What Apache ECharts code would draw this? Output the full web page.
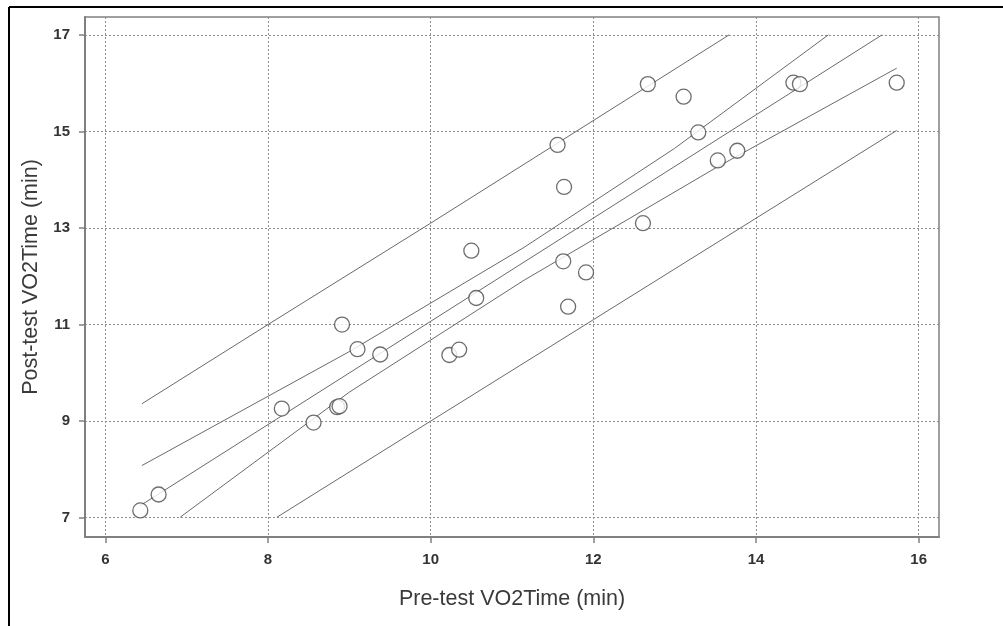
<!DOCTYPE html>
<html>
<head>
<meta charset="utf-8">
<title>VO2Time</title>
<script src="https://cdn.jsdelivr.net/npm/echarts@6/dist/echarts.min.js"></script>
<style>
  html, body { margin: 0; padding: 0; background: #fff; }
  #main { width: 1003px; height: 626px; }
</style>
</head>
<body>
<div id="main"></div>
<script>
// tick labels
var xTicks = [6, 8, 10, 12, 14, 16];
var yTicks = [7, 9, 11, 13, 15, 17];

// pre-test / post-test pairs
var preTest  = [6.43, 6.655, 8.17, 8.56, 8.85, 8.88, 8.91, 9.10, 9.38, 10.23, 10.35, 10.50, 10.56, 11.56, 11.64, 11.63, 11.69, 11.91, 12.61, 12.67, 13.11, 13.29, 13.53, 13.77, 14.46, 14.54, 15.73];
var postTest = [7.15, 7.48, 9.26, 8.97, 9.29, 9.31, 11.00, 10.49, 10.38, 10.37, 10.48, 12.53, 11.55, 14.72, 13.85, 12.31, 11.37, 12.08, 13.10, 15.98, 15.72, 14.98, 14.40, 14.60, 16.01, 15.98, 16.01];

// fitted lines, points read at the picture
var fitLine    = [[6.43, 7.25], [15.55, 17.0]];
var upperConf  = [[6.45, 8.08], [9.0, 10.44], [11.15, 12.6], [13.0, 14.65], [14.89, 17.0]];
var lowerConf  = [[6.92, 7.01], [9.0, 9.6], [11.15, 11.92], [13.5, 14.24], [15.73, 16.31]];
var upperPred  = [[6.45, 9.36], [8.0, 11.0], [10.0, 13.1], [13.67, 17.0]];
var lowerPred  = [[8.11, 7.01], [10.0, 9.0], [12.0, 11.1], [15.73, 15.02]];

var points = [];
for (var i = 0; i < preTest.length; i++) {
    points.push([preTest[i], postTest[i]]);
}

function lineSeries(data) {
    return {
        type: 'line',
        data: data,
        symbol: 'none',
        silent: true,
        z: 2,
        lineStyle: { color: '#6a6a6a', width: 1 }
    };
}

var myChart = echarts.init(document.getElementById('main'));
var option = {
    backgroundColor: '#fff',
    animation: false,
    graphic: [
        { type: 'line', shape: { x1: 9, y1: 7, x2: 1003, y2: 7 }, style: { stroke: '#000', lineWidth: 2 } },
        { type: 'line', shape: { x1: 9, y1: 7, x2: 9, y2: 626 }, style: { stroke: '#000', lineWidth: 2 } }
    ],
    grid: {
        left: 85, top: 17, right: 64, bottom: 89,
        show: true,
        borderColor: '#808080',
        borderWidth: 1.5
    },
    xAxis: {
        type: 'value',
        min: 5.75, max: 16.25,
        name: 'Pre-test VO2Time (min)',
        nameLocation: 'middle',
        nameGap: 51,
        nameTextStyle: { fontFamily: 'Liberation Sans', fontSize: 21.5, color: '#3a3a3a' },
        axisLine: { show: true, lineStyle: { color: '#808080', width: 2 } },
        axisTick: { show: true, customValues: xTicks, length: 6, lineStyle: { color: '#808080', width: 1.5 } },
        axisLabel: { customValues: xTicks, margin: 15, fontFamily: 'Liberation Sans', fontSize: 15, fontWeight: 'bold', color: '#333' },
        splitLine: { show: true, lineStyle: { color: '#8f8f8f', width: 1, type: [2, 2] } }
    },
    yAxis: {
        type: 'value',
        min: 6.6, max: 17.37,
        name: 'Post-test VO2Time (min)',
        nameLocation: 'middle',
        nameGap: 41,
        nameTextStyle: { fontFamily: 'Liberation Sans', fontSize: 21.5, color: '#3a3a3a' },
        axisLine: { show: true, lineStyle: { color: '#808080', width: 2 } },
        axisTick: { show: true, customValues: yTicks, length: 6, lineStyle: { color: '#808080', width: 1.5 } },
        axisLabel: { customValues: yTicks, margin: 15, fontFamily: 'Liberation Sans', fontSize: 15, fontWeight: 'bold', color: '#333' },
        splitLine: { show: true, lineStyle: { color: '#8f8f8f', width: 1, type: [2, 2] } }
    },
    series: [
        lineSeries(upperPred),
        lineSeries(upperConf),
        lineSeries(fitLine),
        lineSeries(lowerConf),
        lineSeries(lowerPred),
        {
            type: 'scatter',
            data: points,
            symbol: 'circle',
            symbolSize: 15,
            z: 5,
            itemStyle: { color: '#fff', borderColor: '#4a4a4a', borderWidth: 1.3 }
        }
    ]
};
myChart.setOption(option);
</script>
</body>
</html>
